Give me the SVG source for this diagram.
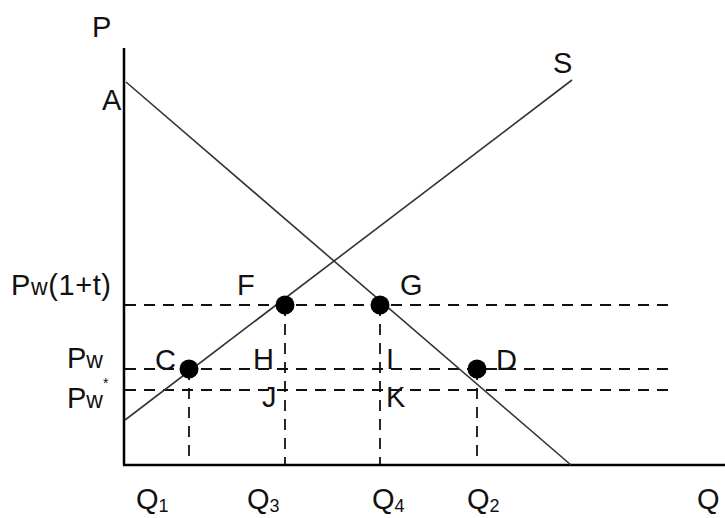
<svg xmlns="http://www.w3.org/2000/svg" width="725" height="518" viewBox="0 0 725 518">
<style>
text{font-family:"Liberation Sans",Arial,sans-serif;font-size:29px;fill:#111}
.sm{font-size:23px}
.sub{font-size:18px}
.axis{stroke:#000;stroke-width:2.5;fill:none}
.curve{stroke:#333;stroke-width:1.6;fill:none}
.dash{stroke:#111;stroke-width:1.8;stroke-dasharray:11 8;fill:none}
.dot{fill:#000}
</style>
<rect width="725" height="518" fill="#fff"/>
<g id="axes">
<line class="axis" x1="124" y1="48" x2="124" y2="465"/>
<line class="axis" x1="123" y1="465" x2="725" y2="465"/>
</g>
<g id="connectors">
<line class="dash" x1="125" y1="305" x2="670" y2="305"/>
<line class="dash" x1="125" y1="369" x2="670" y2="369"/>
<line class="dash" x1="125" y1="390" x2="670" y2="390"/>
<line class="dash" x1="189" y1="369" x2="189" y2="464"/>
<line class="dash" x1="285" y1="305" x2="285" y2="464"/>
<line class="dash" x1="380" y1="305" x2="380" y2="464"/>
<line class="dash" x1="477" y1="369" x2="477" y2="464"/>
<line id="demand" class="curve" x1="126" y1="82" x2="571" y2="465"/>
<line id="supply" class="curve" x1="125" y1="420" x2="572" y2="80"/>
</g>
<g id="point-C"><circle class="dot" cx="189" cy="369" r="9.5"/><text x="155" y="370">C</text></g>
<g id="point-F"><circle class="dot" cx="285" cy="305" r="9.5"/><text x="237" y="295">F</text></g>
<g id="point-G"><circle class="dot" cx="380" cy="305" r="9.5"/><text x="400" y="295">G</text></g>
<g id="point-D"><circle class="dot" cx="477" cy="369" r="9.5"/><text x="496" y="370">D</text></g>
<g id="point-H"><text x="253" y="369">H</text></g>
<g id="point-I"><text x="386" y="369">I</text></g>
<g id="point-J"><text x="262" y="407">J</text></g>
<g id="point-K"><text x="386" y="407">K</text></g>
<g id="labels">
<text x="92" y="37">P</text>
<text x="102" y="110">A</text>
<text x="553" y="73">S</text>
<text x="11" y="295" letter-spacing="0.6">P<tspan class="sm">w</tspan>(1+t)</text>
<text x="67" y="368">P<tspan class="sm">w</tspan></text>
<text x="67" y="408">P<tspan class="sm">w</tspan><tspan font-size="14px" dy="-20">*</tspan></text>
<text x="136" y="509">Q<tspan class="sub" dy="3">1</tspan></text>
<text x="247" y="509">Q<tspan class="sub" dy="3">3</tspan></text>
<text x="372" y="509">Q<tspan class="sub" dy="3">4</tspan></text>
<text x="467" y="509">Q<tspan class="sub" dy="3">2</tspan></text>
<text x="697" y="509">Q</text>
</g>
</svg>
